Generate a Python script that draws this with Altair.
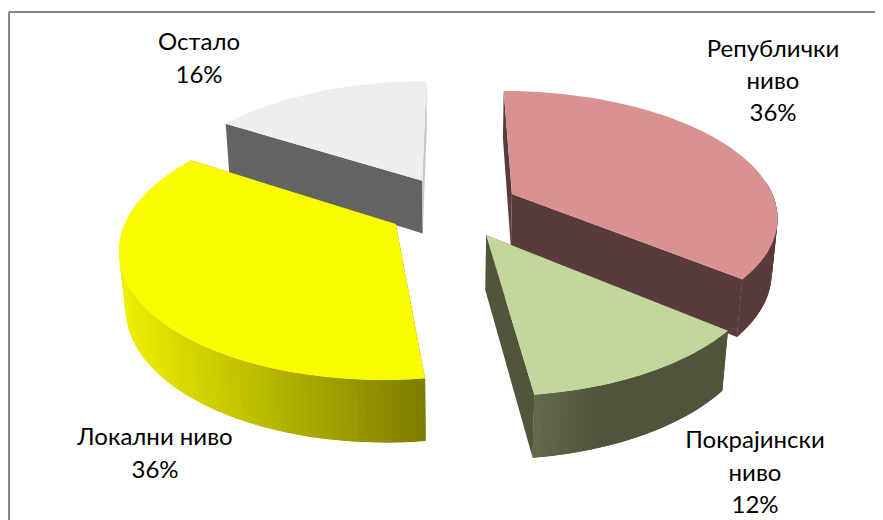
import math
import altair as alt
import pandas as pd

# ---- chart values
names = ["Републички ниво", "Покрајински ниво", "Локални ниво", "Остало"]
shares = [36, 12, 36, 16]

# ---- styles, in slice order
top_colors = ["#D89291", "#C3D69B", "#FBFB00", "#EEEEEE"]
start_face_colors = ["#5A3B3B", "#50553C", "#808000", "#636363"]
end_face_colors = ["#5A3B3B", "#50553C", "#808000", "#C8C8C8"]
wall_left_colors = ["#5A3B3B", "#626A4C", "#F0F000", "#636363"]
wall_right_colors = ["#5A3B3B", "#4F543B", "#7C7C00", "#636363"]
wall_spans = [1.0, 0.35, 1.0, 1.0]

# ---- layout of the 3D view
OX, OY = 453.0, 207.0      # projected pie centre
AX, AY = 265.0, 124.0      # projected radii before perspective
PERSP = 0.165              # depth foreshortening
DROP = 55.0                # pie thickness
CONV = 0.018               # convergence of vertical edges
EXPLODE = 0.25
ROT = 0.0
PAINT = [3, 2, 0, 1]       # back to front

LABELS = {
    0: (773, [50, 82, 114], ["Републички", "ниво"]),
    1: (755, [441, 474, 506], ["Покрајински", "ниво"]),
    2: (155, [438, 471], ["Локални ниво"]),
    3: (199, [43, 76], ["Остало"]),
}
BORDER = "#868686"


def project(X, Y, Z):
    w = 1 + PERSP * Y + CONV * Z
    return OX + AX * X / w, OY + (-AY * Y + DROP * Z) / w


def mix(c1, c2, t):
    a = [int(c1[i:i + 2], 16) for i in (1, 3, 5)]
    b = [int(c2[i:i + 2], 16) for i in (1, 3, 5)]
    return "#%02x%02x%02x" % tuple(round(p + (q - p) * t) for p, q in zip(a, b))


rows = []
pid = [0]


def polygon(points, color):
    pid[0] += 1
    for n, (x, y) in enumerate(points):
        rows.append({"px": x, "py": y, "poly": pid[0], "seq": n, "paint": color})


total = sum(shares)
bounds = [ROT]
for v in shares:
    bounds.append(bounds[-1] + 360 * v / total)

for i in PAINT:
    a0, a1 = bounds[i], bounds[i + 1]
    mid = math.radians((a0 + a1) / 2)
    cx, cy = EXPLODE * math.sin(mid), EXPLODE * math.cos(mid)

    def rim(deg):
        t = math.radians(deg)
        return cx + math.sin(t), cy + math.cos(t)

    steps = max(8, int((a1 - a0) / 1.5))
    angles = [a0 + (a1 - a0) * k / steps for k in range(steps + 1)]

    # flat cut faces
    for deg, col in ((a0, start_face_colors[i]), (a1, end_face_colors[i])):
        X, Y = rim(deg)
        polygon([project(cx, cy, 0), project(X, Y, 0), project(X, Y, 1), project(cx, cy, 1)], col)

    # outer wall in shaded strips, each overlapping the next so no seam shows;
    # the part of the rim that faces away from the viewer is left out
    xs = [project(*rim(d), 0)[0] for d in angles]
    xmin, xmax = min(xs), max(xs)
    for k in range(steps):
        if math.cos(math.radians(angles[k])) > 0.12:
            continue
        Xa, Ya = rim(angles[k])
        Xb, Yb = rim(angles[min(k + 2, steps)])
        t = ((xs[k] + xs[k + 1]) / 2 - xmin) / (xmax - xmin)
        polygon(
            [project(Xa, Ya, 0), project(Xb, Yb, 0), project(Xb, Yb, 1), project(Xa, Ya, 1)],
            mix(wall_left_colors[i], wall_right_colors[i], min(1.0, t / wall_spans[i])),
        )

    # top face
    polygon([project(cx, cy, 0)] + [project(*rim(d), 0) for d in angles], top_colors[i])

faces = pd.DataFrame(rows)

text_rows = []
for i, (x, ys, lines) in LABELS.items():
    for y, line in zip(ys, lines + [f"{shares[i]}%"]):
        text_rows.append({"px": x, "py": y, "label": line})
texts = pd.DataFrame(text_rows)

x_scale = alt.Scale(domain=[8, 875], range=[0, 867], nice=False, zero=False)
y_scale = alt.Scale(domain=[8, 520], range=[0, 512], nice=False, zero=False)
X = alt.X("px:Q", scale=x_scale, axis=None)
Y = alt.Y("py:Q", scale=y_scale, axis=None)

pie = alt.Chart(faces).mark_line(strokeWidth=0, clip=False, interpolate="linear-closed").encode(
    x=X,
    y=Y,
    detail="poly:N",
    order="seq:Q",
    fill=alt.Fill("paint:N", scale=None),
)

labels = alt.Chart(texts).mark_text(
    font="Lato", fontSize=24, color="#000000", align="center", baseline="middle"
).encode(x=X, y=Y, text="label:N")

frame_top = alt.Chart(pd.DataFrame({"px": [9], "px2": [875], "py": [12]})).mark_rule(
    color=BORDER, strokeWidth=2
).encode(x=X, x2="px2:Q", y=Y)
frame_left = alt.Chart(pd.DataFrame({"px": [9], "py": [12], "py2": [520]})).mark_rule(
    color=BORDER, strokeWidth=2
).encode(x=X, y=Y, y2="py2:Q")

chart = alt.layer(frame_top, frame_left, pie, labels).properties(
    width=867, height=512, padding=0, autosize=alt.AutoSizeParams(type="none"), background="#FFFFFF"
).configure_view(stroke=None)

chart.save("out.html", embed_options={"renderer": "svg", "actions": False})
